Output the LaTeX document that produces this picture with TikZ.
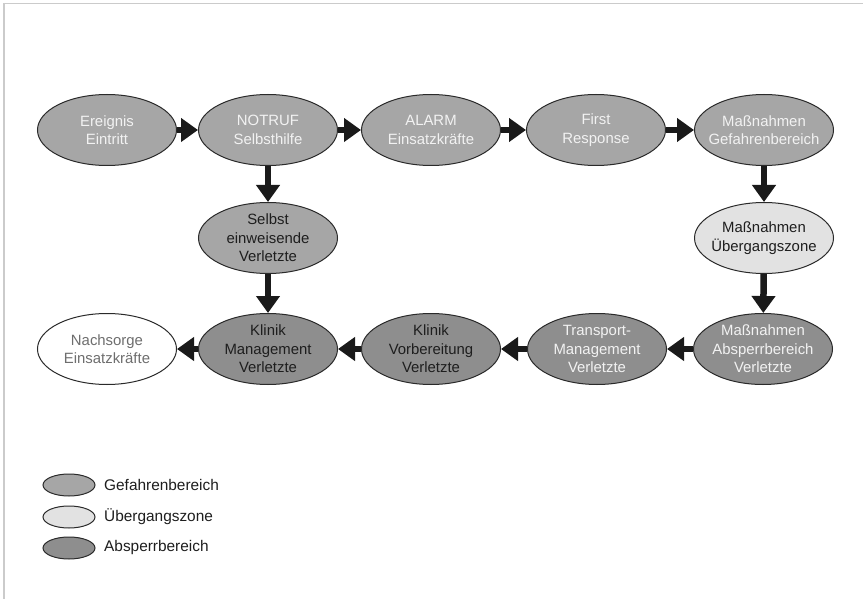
\documentclass[tikz,border=0pt]{standalone}
\usepackage{fontspec}
\setmainfont{Liberation Sans}
\usetikzlibrary{shapes.geometric,arrows.meta}

\definecolor{gefahr}{HTML}{A6A6A6}
\definecolor{uebergang}{HTML}{E2E2E2}
\definecolor{absperr}{HTML}{8E8E8E}
\definecolor{rim}{HTML}{2A2A2A}
\definecolor{lighttext}{HTML}{F2F2F2}
\definecolor{darktext}{HTML}{1E1E1E}
\definecolor{greytext}{HTML}{6E6E6E}
\definecolor{framegrey}{HTML}{CBCBCB}
\definecolor{arrowblack}{HTML}{1A1A1A}

\tikzset{
  phase/.style={ellipse, draw=rim, line width=1pt, minimum width=139pt,
    minimum height=71pt, inner xsep=-9pt, inner ysep=-4pt, align=center,
    font=\fontsize{14.9}{18.6}\selectfont},
  gef/.style={phase, fill=gefahr},
  ueb/.style={phase, fill=uebergang, text=darktext},
  abs/.style={phase, fill=absperr},
  flow/.style={draw=arrowblack, line width=6.5pt,
    -{Triangle[length=17pt,width=23pt]}},
  keyshape/.style={ellipse, draw=rim, line width=1pt, minimum width=52pt,
    minimum height=22pt, inner sep=0pt},
  keytext/.style={anchor=west, inner sep=0pt, text=darktext,
    font=\fontsize{15.4}{18}\selectfont}
}

\begin{document}
\begin{tikzpicture}[x=1pt,y=-1pt]
  \useasboundingbox (0,0) rectangle (863,599);
  \fill[white] (0,0) rectangle (863,599);
  % thin frame along top and left edges
  \draw[framegrey, line width=1.8pt] (4,599) -- (4,3.5) -- (863,3.5);

  % top row
  \node[gef, text=lighttext] (ereignis) at (107,130) {Ereignis\\Eintritt};
  \node[gef, text=lighttext] (notruf) at (268,130) {NOTRUF\\Selbsthilfe};
  \node[gef, text=lighttext] (alarm) at (431,130) {ALARM\\Einsatzkräfte};
  \node[gef, text=lighttext] (first) at (596,130) {First\\Response};
  \node[gef, text=lighttext] (mgef) at (764,130) {Maßnahmen\\Gefahrenbereich};

  % middle row
  \node[gef, text=darktext] (selbst) at (268,238) {Selbst\\einweisende\\Verletzte};
  \node[ueb] (muebergang) at (764,238) {Maßnahmen\\Übergangszone};

  % bottom row
  \node[phase, fill=white, text=greytext] (nachsorge) at (107,349) {Nachsorge\\Einsatzkräfte};
  \node[abs, text=darktext] (kmanagement) at (268,349) {Klinik\\Management\\Verletzte};
  \node[abs, text=darktext] (kvorbereitung) at (431,349) {Klinik\\Vorbereitung\\Verletzte};
  \node[abs, text=lighttext] (transport) at (597,349) {Transport-\\Management\\Verletzte};
  \node[abs, text=lighttext] (mabsperr) at (763,349) {Maßnahmen\\Absperrbereich\\Verletzte};

  % flow connectors
  \draw[flow] (ereignis) -- (notruf);
  \draw[flow] (notruf) -- (alarm);
  \draw[flow] (alarm) -- (first);
  \draw[flow] (first) -- (mgef);
  \draw[flow] (notruf) -- (selbst);
  \draw[flow] (selbst) -- (kmanagement);
  \draw[flow] (mgef) -- (muebergang);
  \draw[flow] (muebergang) -- (mabsperr);
  \draw[flow] (mabsperr) -- (transport);
  \draw[flow] (transport) -- (kvorbereitung);
  \draw[flow] (kvorbereitung) -- (kmanagement);
  \draw[flow] (kmanagement) -- (nachsorge);

  % legend
  \node[keyshape, fill=gefahr] (k1) at (69,485) {};
  \node[keyshape, fill=uebergang] (k2) at (69,517) {};
  \node[keyshape, fill=absperr] (k3) at (69,548) {};
  \node[keytext] (t1) at (104,485) {Gefahrenbereich};
  \node[keytext] (t2) at (104,517) {Übergangszone};
  \node[keytext] (t3) at (104,548) {Absperrbereich};
\end{tikzpicture}
\end{document}
